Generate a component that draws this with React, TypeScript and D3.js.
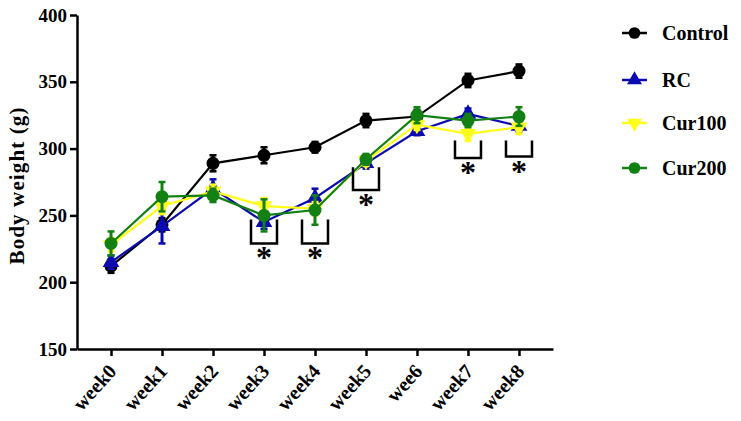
import { useEffect, useRef } from "react";
import * as d3 from "d3";

const weeks = ["week0", "week1", "week2", "week3", "week4", "week5", "wee6", "week7", "week8"];
const yTicks = [150, 200, 250, 300, 350, 400];

const seriesNames = ["Control", "RC", "Cur100", "Cur200"];
const controlMean = [212, 243, 289, 295, 301, 321, 324, 351, 358];
const controlErr = [5, 5, 6, 6, 4, 5, 5, 5, 5];
const rcMean = [215, 242, 270, 245, 263, 289, 313, 326, 317];
const rcErr = [5, 13, 7, 5, 7, 4, 3, 4, 4];
const cur100Mean = [228, 257, 268, 257, 255, 291, 318, 311, 316];
const cur100Err = [5, 6, 5, 6, 5, 4, 4, 5, 5];
const cur200Mean = [229, 264, 265, 250, 254, 292, 325, 321, 324];
const cur200Err = [9, 11, 5, 12, 11, 4, 6, 5, 7];

const sigWeeks = ["week3", "week4", "week5", "week7", "week8"];
const sigTop = [247, 247, 286, 306, 306];
const sigBottom = [229, 229, 269, 293, 294];

const font = "'Liberation Serif', 'Times New Roman', serif";

export default function App() {
  const ref = useRef<SVGSVGElement>(null);

  useEffect(() => {
    const svg = d3.select(ref.current);
    svg.selectAll("*").remove();

    const width = 741;
    const height = 421;
    svg.attr("width", width).attr("height", height);

    const x = d3.scalePoint<string>().domain(weeks).range([77, 553]).padding(0.667);
    const y = d3.scaleLinear().domain([150, 400]).range([349, 15]);

    const series = [
      { name: seriesNames[0], mean: controlMean, err: controlErr, color: "#000000", shape: "circle" },
      { name: seriesNames[1], mean: rcMean, err: rcErr, color: "#0b0bb0", shape: "up" },
      { name: seriesNames[2], mean: cur100Mean, err: cur100Err, color: "#ffff1a", shape: "down" },
      { name: seriesNames[3], mean: cur200Mean, err: cur200Err, color: "#138013", shape: "circle" },
    ];

    const drawMarker = (g: any, shape: string, cx: number, cy: number, color: string, scale = 1) => {
      if (shape === "circle") {
        g.append("circle").attr("cx", cx).attr("cy", cy).attr("r", 6.5 * scale).attr("fill", color);
      } else {
        const sym = d3.symbol().type(d3.symbolTriangle).size(120 * scale * scale);
        g.append("path")
          .attr("d", sym())
          .attr("transform", `translate(${cx},${cy}) rotate(${shape === "down" ? 180 : 0})`)
          .attr("fill", color);
      }
    };

    // axes
    const yAxis = svg.append("g")
      .attr("transform", "translate(77,0)")
      .call(d3.axisLeft(y).tickValues(yTicks).tickSize(7).tickSizeOuter(0).tickPadding(3));
    yAxis.selectAll("path, line").attr("stroke", "#000").attr("stroke-width", 2.5);
    yAxis.selectAll("text")
      .attr("font-family", font)
      .attr("font-weight", "bold")
      .attr("font-size", 19)
      .attr("fill", "#000");

    const xAxis = svg.append("g")
      .attr("transform", "translate(0,349)")
      .call(d3.axisBottom(x).tickSize(7).tickSizeOuter(0));
    xAxis.selectAll("path, line").attr("stroke", "#000").attr("stroke-width", 2.5);
    xAxis.selectAll("text")
      .attr("font-family", font)
      .attr("font-weight", "bold")
      .attr("font-size", 20)
      .attr("fill", "#000")
      .attr("text-anchor", "end")
      .attr("y", 0)
      .attr("dy", 0)
      .attr("transform", "translate(6,23) rotate(-48)");

    svg.append("text")
      .attr("transform", `translate(24,${(15 + 349) / 2 + 4}) rotate(-90)`)
      .attr("text-anchor", "middle")
      .attr("font-family", font)
      .attr("font-weight", "bold")
      .attr("font-size", 21)
      .attr("textLength", 157)
      .attr("lengthAdjust", "spacing")
      .text("Body weight (g)");

    // series
    series.forEach(s => {
      const g = svg.append("g");
      const line = d3.line<number>()
        .x((_, i) => x(weeks[i])!)
        .y(d => y(d));
      g.append("path")
        .attr("d", line(s.mean))
        .attr("fill", "none")
        .attr("stroke", s.color)
        .attr("stroke-width", 2.2);
      s.mean.forEach((m, i) => {
        const cx = x(weeks[i])!;
        g.append("line")
          .attr("x1", cx).attr("x2", cx)
          .attr("y1", y(m - s.err[i])).attr("y2", y(m + s.err[i]))
          .attr("stroke", s.color).attr("stroke-width", 3);
        [m - s.err[i], m + s.err[i]].forEach(v => {
          g.append("line")
            .attr("x1", cx - 3.5).attr("x2", cx + 3.5)
            .attr("y1", y(v)).attr("y2", y(v))
            .attr("stroke", s.color).attr("stroke-width", 2.5);
        });
        drawMarker(g, s.shape, cx, y(m), s.color);
      });
    });

    // significance brackets
    sigWeeks.forEach((w, i) => {
      const cx = x(w)!;
      const top = y(sigTop[i]);
      const bottom = y(sigBottom[i]);
      svg.append("path")
        .attr("d", `M${cx - 13},${top}V${bottom}H${cx + 13}V${top}`)
        .attr("fill", "none")
        .attr("stroke", "#000")
        .attr("stroke-width", 2.5);
      svg.append("text")
        .attr("x", cx)
        .attr("y", bottom + 25)
        .attr("text-anchor", "middle")
        .attr("font-family", font)
        .attr("font-weight", "bold")
        .attr("font-size", 32)
        .text("*");
    });

    // legend
    const legendY = [33, 80, 123, 168];
    series.forEach((s, i) => {
      const g = svg.append("g");
      g.append("line")
        .attr("x1", 622).attr("x2", 647)
        .attr("y1", legendY[i]).attr("y2", legendY[i])
        .attr("stroke", s.color).attr("stroke-width", 2.5);
      drawMarker(g, s.shape, 634.5, legendY[i], s.color, 0.9);
      g.append("text")
        .attr("x", 662)
        .attr("y", legendY[i])
        .attr("dy", "0.35em")
        .attr("font-family", font)
        .attr("font-weight", "bold")
        .attr("font-size", 20)
        .text(s.name);
    });
  }, []);

  return <svg ref={ref} style={{ position: "absolute", left: 0, top: 0 }}></svg>;
}
